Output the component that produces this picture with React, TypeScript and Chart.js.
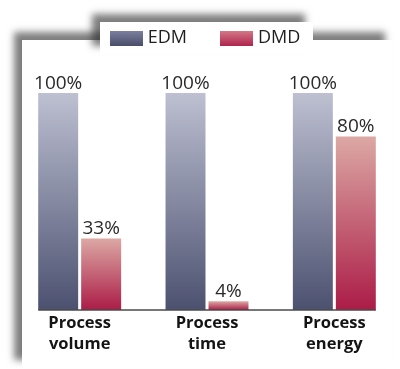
import React, { useEffect, useRef } from "react";
import { Chart, registerables } from "chart.js";

Chart.register(...registerables);

const categories: string[][] = [
  ["Process", "volume"],
  ["Process", "time"],
  ["Process", "energy"],
];
const seriesNames: string[] = ["EDM", "DMD"];
const edmValues: number[] = [100, 100, 100];
const dmdValues: number[] = [33, 4, 80];

const EDM_TOP = "#bdc0d1";
const EDM_BOTTOM = "#4c5170";
const DMD_TOP = "#dca8a4";
const DMD_BOTTOM = "#ab1c47";
const EDM_SWATCH = ["#7e82a0", "#4b4f6c"];
const DMD_SWATCH = ["#d47a88", "#b0264f"];

const FONT = "'Open Sans', 'DejaVu Sans', sans-serif";

function makeSwatch(colors: string[]): HTMLCanvasElement {
  const c = document.createElement("canvas");
  c.width = 33;
  c.height = 15;
  const g = c.getContext("2d")!;
  const grad = g.createLinearGradient(0, 0, 0, 15);
  grad.addColorStop(0, colors[0]);
  grad.addColorStop(1, colors[1]);
  g.fillStyle = grad;
  g.fillRect(0, 0, 33, 15);
  return c;
}

function barGradient(top: string, bottom: string) {
  return (ctx: any) => {
    const chart = ctx.chart;
    const scales = chart.scales;
    if (!chart.chartArea || !scales || !scales.y || ctx.type !== "data") return bottom;
    const yTop = scales.y.getPixelForValue(ctx.raw);
    const yBase = scales.y.getPixelForValue(0);
    const g = chart.ctx.createLinearGradient(0, yTop, 0, yBase);
    g.addColorStop(0, top);
    g.addColorStop(1, bottom);
    return g;
  };
}

const legendHeightPlugin = {
  id: "legendHeight",
  beforeLayout(chart: any) {
    const lg = chart.legend;
    if (lg && !lg.__patched) {
      const orig = lg.fit.bind(lg);
      lg.fit = function () {
        orig();
        this.height = 101;
      };
      lg.__patched = true;
    }
  },
};

const valueLabelPlugin = {
  id: "valueLabels",
  afterDatasetsDraw(chart: any) {
    const ctx = chart.ctx;
    ctx.save();
    ctx.font = `normal 19px ${FONT}`;
    ctx.fillStyle = "#2a2a2a";
    ctx.textAlign = "center";
    ctx.textBaseline = "alphabetic";
    chart.data.datasets.forEach((ds: any, di: number) => {
      const meta = chart.getDatasetMeta(di);
      meta.data.forEach((bar: any, i: number) => {
        ctx.fillText(`${ds.data[i]}%`, bar.x, bar.y - 4);
      });
    });
    const first = chart.getDatasetMeta(0).data[0];
    const lastMeta = chart.getDatasetMeta(chart.data.datasets.length - 1);
    const last = lastMeta.data[lastMeta.data.length - 1];
    const y = chart.scales.y.getPixelForValue(0);
    ctx.strokeStyle = "#4a4a4a";
    ctx.lineWidth = 1.5;
    ctx.beginPath();
    ctx.moveTo(first.x - first.width / 2, y);
    ctx.lineTo(last.x + last.width / 2, y);
    ctx.stroke();
    ctx.restore();
  },
};

export default function App() {
  const ref = useRef<HTMLCanvasElement | null>(null);

  useEffect(() => {
    if (!ref.current) return;
    const swatches = [makeSwatch(EDM_SWATCH), makeSwatch(DMD_SWATCH)];
    const chart = new Chart(ref.current, {
      type: "bar",
      data: {
        labels: categories,
        datasets: [
          {
            label: seriesNames[0],
            data: edmValues,
            backgroundColor: barGradient(EDM_TOP, EDM_BOTTOM),
            borderWidth: 0,
            categoryPercentage: 0.675,
            barPercentage: 0.93,
          },
          {
            label: seriesNames[1],
            data: dmdValues,
            backgroundColor: barGradient(DMD_TOP, DMD_BOTTOM),
            borderWidth: 0,
            categoryPercentage: 0.675,
            barPercentage: 0.93,
          },
        ],
      },
      options: {
        animation: false,
        responsive: false,
        layout: { padding: { left: 16, right: 2, top: -8, bottom: 0 } },
        plugins: {
          tooltip: { enabled: false },
          legend: {
            display: true,
            position: "top",
            labels: {
              usePointStyle: true,
              pointStyleWidth: 25,
              boxHeight: 15,
              padding: 37,
              color: "#1e1e1e",
              font: { family: FONT, size: 18, weight: "normal" },
              generateLabels: () =>
                seriesNames.map((name, i) => ({
                  text: name,
                  pointStyle: swatches[i],
                  fillStyle: "transparent",
                  strokeStyle: "transparent",
                  lineWidth: 0,
                  hidden: false,
                  datasetIndex: i,
                  fontColor: "#1e1e1e",
                })),
            },
          },
        },
        scales: {
          x: {
            grid: { display: false, drawTicks: false },
            border: { display: false },
            ticks: {
              color: "#141414",
              padding: 3,
              font: { family: FONT, size: 16.5, weight: "bold", lineHeight: 1.27 },
            },
            afterFit: (scale: any) => {
              scale.height = 59;
            },
          },
          y: {
            display: false,
            min: 0,
            max: 100,
          },
        },
      },
      plugins: [legendHeightPlugin, valueLabelPlugin],
    });
    return () => chart.destroy();
  }, []);

  return (
    <div
      style={{
        position: "fixed",
        left: 0,
        top: 0,
        width: 400,
        height: 369,
        background: "#ffffff",
        overflow: "hidden",
      }}
    >
      <div
        style={{
          position: "absolute",
          left: 22,
          top: 40,
          width: 371,
          height: 328,
          background: "#ffffff",
          boxShadow: "-8px -8px 7px rgba(40,40,40,0.6)",
        }}
      />
      <div
        style={{
          position: "absolute",
          left: 100,
          top: 22,
          width: 213,
          height: 32,
          background: "#ffffff",
          boxShadow: "-8px -8px 7px rgba(40,40,40,0.6)",
        }}
      />
      <canvas
        ref={ref}
        width={400}
        height={369}
        style={{ position: "absolute", left: 0, top: 0, width: 400, height: 369 }}
      />
    </div>
  );
}
